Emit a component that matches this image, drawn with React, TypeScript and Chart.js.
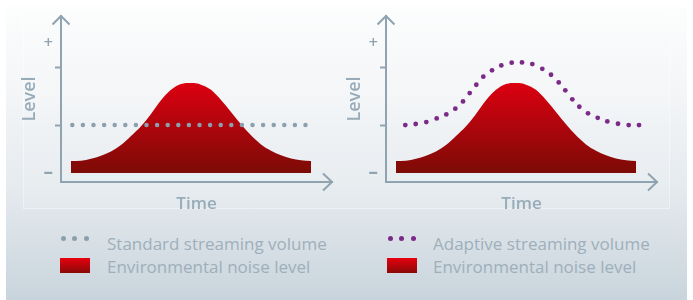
import React, { useEffect, useRef } from "react";
import { Chart, registerables } from "chart.js";

Chart.register(...registerables);

// ---- data ----
const timeSteps = [0, 1, 2, 3, 4, 5, 6, 7, 8, 9, 10, 11, 12, 13, 14, 15, 16, 17, 18, 19, 20, 21, 22, 23, 24];
const noiseLevel = [0.92, 0.95, 1.1, 1.33, 1.66, 2.15, 2.85, 3.6, 4.55, 5.6, 6.4, 6.85, 6.92, 6.8, 6.4, 5.62, 4.7, 3.75, 2.9, 2.2, 1.72, 1.36, 1.12, 0.98, 0.92];

const standardTime = [0.13, 23.6];
const standardLevel = [3.69, 3.69];

const adaptiveTime = [0.93, 1.97, 3.03, 4.07, 5.03, 5.93, 6.7, 7.37, 8.03, 8.73, 9.6, 10.53, 11.57, 12.6, 13.63, 14.63, 15.5, 16.27, 16.93, 17.63, 18.33, 19.2, 20.17, 21.13, 22.2, 23.27, 24.3];
const adaptiveLevel = [3.69, 3.77, 3.92, 4.2, 4.51, 4.95, 5.51, 6.15, 6.79, 7.41, 7.9, 8.28, 8.49, 8.51, 8.38, 8.02, 7.56, 6.97, 6.36, 5.67, 5.1, 4.59, 4.25, 3.97, 3.79, 3.69, 3.69];

const levelTicks = [0, 3.69, 8.08, 10];
const levelTickLabels = ["–", "", "", "+"];
const levelMin = -0.69;
const levelMax = 12.08;
const timeMin = -1;
const timeMax = 26.1;

const legendLeft = ["Standard streaming volume", "Environmental noise level"];
const legendRight = ["Adaptive streaming volume", "Environmental noise level"];

// ---- styles ----
const AXIS = "#8fa3b1";
const TITLE = "#97abb9";
const GREY_DOT = "#8c9fad";
const PURPLE = "#7b2a88";
const FONT = "'Open Sans', 'Noto Sans', sans-serif";

const arrowPlugin = {
  id: "axisArrows",
  afterDraw(chart: any) {
    const { ctx, chartArea: a } = chart;
    ctx.save();
    ctx.strokeStyle = AXIS;
    ctx.lineWidth = 2;
    ctx.lineJoin = "miter";
    ctx.beginPath();
    ctx.moveTo(a.left - 8.5, a.top + 8.5);
    ctx.lineTo(a.left, a.top);
    ctx.lineTo(a.left + 8.5, a.top + 8.5);
    ctx.stroke();
    ctx.beginPath();
    ctx.moveTo(a.right - 9, a.bottom - 8.5);
    ctx.lineTo(a.right, a.bottom);
    ctx.lineTo(a.right - 9, a.bottom + 8.5);
    ctx.stroke();
    ctx.restore();
  },
};

function redGradient(ctx: any) {
  const chart = ctx.chart;
  const { chartArea, scales } = chart;
  if (!chartArea) return "#b00000";
  const top = scales.y.getPixelForValue(Math.max(...noiseLevel));
  const bottom = scales.y.getPixelForValue(0);
  const g = chart.ctx.createLinearGradient(0, top, 0, bottom);
  g.addColorStop(0, "#dc0011");
  g.addColorStop(1, "#7c0b06");
  return g;
}

function Panel({ adaptive, left }: { adaptive: boolean; left: number }) {
  const ref = useRef<HTMLCanvasElement | null>(null);
  useEffect(() => {
    if (!ref.current) return;
    const volumeDataset = adaptive
      ? {
          label: "Adaptive streaming volume",
          data: adaptiveTime.map((t, i) => ({ x: t, y: adaptiveLevel[i] })),
          showLine: false,
          pointRadius: 2.4,
          pointBorderWidth: 0,
          pointBackgroundColor: PURPLE,
          order: 0,
        }
      : {
          label: "Standard streaming volume",
          data: standardTime.map((t, i) => ({ x: t, y: standardLevel[i] })),
          borderColor: GREY_DOT,
          borderWidth: 4.5,
          borderDash: [0, 10.6],
          borderCapStyle: "round",
          pointRadius: 0,
          order: 0,
        };
    const chart = new Chart(ref.current, {
      type: "line",
      data: {
        datasets: [
          volumeDataset as any,
          {
            label: "Environmental noise level",
            data: timeSteps.map((t, i) => ({ x: t, y: noiseLevel[i] })),
            borderWidth: 0,
            borderColor: "rgba(0,0,0,0)",
            backgroundColor: redGradient,
            fill: { value: 0 },
            cubicInterpolationMode: "monotone",
            pointRadius: 0,
            order: 1,
          } as any,
        ],
      },
      options: {
        responsive: false,
        maintainAspectRatio: false,
        animation: false,
        devicePixelRatio: 1,
        layout: { padding: { top: 16, right: 14, left: 0, bottom: 0 } },
        plugins: { legend: { display: false }, tooltip: { enabled: false } },
        scales: {
          x: {
            type: "linear",
            min: timeMin,
            max: timeMax,
            grid: { display: false },
            border: { display: true, color: AXIS, width: 2 },
            ticks: { display: false },
            title: {
              display: true,
              text: "Time",
              color: TITLE,
              font: { family: FONT, size: 17, weight: "600" },
              padding: { top: 0, bottom: 5.8 },
            },
            afterFit(scale: any) {
              scale.height = 38;
            },
          },
          y: {
            type: "linear",
            min: levelMin,
            max: levelMax,
            grid: {
              display: true,
              drawOnChartArea: false,
              drawTicks: true,
              tickLength: 6,
              tickWidth: 2,
              tickColor: (c: any) =>
                c.tick && (c.tick.value === levelTicks[0] || c.tick.value === levelTicks[3])
                  ? "rgba(0,0,0,0)"
                  : AXIS,
            },
            border: { display: true, color: AXIS, width: 2 },
            ticks: {
              color: AXIS,
              padding: 2,
              autoSkip: false,
              font: (c: any) =>
                c.tick && c.tick.value === levelTicks[0]
                  ? { family: FONT, size: 19, weight: "bold" }
                  : { family: FONT, size: 16, weight: "600" },
              callback: (v: any) => {
                const i = levelTicks.indexOf(Number(v));
                return i >= 0 ? levelTickLabels[i] : "";
              },
            },
            afterBuildTicks(scale: any) {
              scale.ticks = levelTicks.map((v) => ({ value: v }));
            },
            title: {
              display: true,
              text: "Level",
              color: TITLE,
              font: { family: FONT, size: 18, weight: "600" },
              padding: { top: 19.2, bottom: 0 },
            },
            afterFit(scale: any) {
              scale.width = 61;
            },
          },
        },
      } as any,
      plugins: [arrowPlugin],
    });
    return () => chart.destroy();
  }, [adaptive]);
  return (
    <canvas
      ref={ref}
      width={346}
      height={220}
      style={{ position: "absolute", left, top: 0, width: 346, height: 220 }}
    />
  );
}

function LegendBlock({ labels, dotColor, dotXs, rectX, textX }: any) {
  return (
    <>
      {dotXs.map((dx: number, i: number) => (
        <span
          key={i}
          style={{
            position: "absolute",
            left: dx - 2.5,
            top: 238 - 2.5,
            width: 5,
            height: 5,
            borderRadius: "50%",
            background: dotColor,
          }}
        />
      ))}
      <span
        style={{
          position: "absolute",
          left: rectX,
          top: 258,
          width: 30,
          height: 15,
          background: "linear-gradient(#e6000f, #8a0a08)",
        }}
      />
      {labels.map((t: string, i: number) => (
        <div
          key={t + i}
          style={{
            position: "absolute",
            left: textX,
            top: 232 + i * 23,
            height: 24,
            lineHeight: "24px",
            fontFamily: FONT,
            fontSize: 17,
            color: "#9eafbb",
            whiteSpace: "nowrap",
          }}
        >
          {t}
        </div>
      ))}
    </>
  );
}

export default function App() {
  return (
    <div
      style={{
        position: "fixed",
        left: 0,
        top: 0,
        width: 693,
        height: 300,
        background: "#ffffff",
        overflow: "hidden",
      }}
    >
      <div
        style={{
          position: "absolute",
          left: 6,
          top: 7,
          width: 681,
          height: 293,
          background: "linear-gradient(to bottom, #fcfdfd 0%, #f3f5f7 30%, #e6ebef 60%, #d8e0e6 80%, #c8d4dc 100%)",
        }}
      />
      <div
        style={{
          position: "absolute",
          left: 23,
          top: 10,
          width: 645,
          height: 197,
          border: "1px solid rgba(255,255,255,0.4)",
          background: "rgba(255,255,255,0.1)",
        }}
      />
      <Panel adaptive={false} left={0} />
      <Panel adaptive={true} left={325} />
      <LegendBlock labels={legendLeft} dotColor={GREY_DOT} dotXs={[63, 74, 86]} rectX={60} textX={107} />
      <LegendBlock labels={legendRight} dotColor={PURPLE} dotXs={[390, 401.5, 413]} rectX={387} textX={433} />
    </div>
  );
}
